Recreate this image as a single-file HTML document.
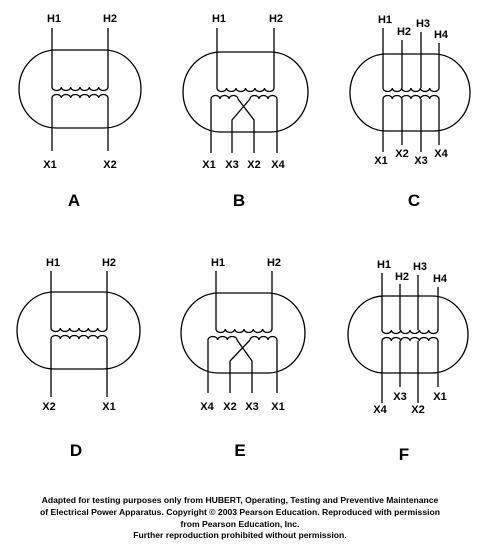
<!DOCTYPE html>
<html><head><meta charset="utf-8"><style>
html,body{margin:0;padding:0;background:#fff;}
svg{display:block;}
text{font-family:"Liberation Sans",Arial,sans-serif;font-weight:bold;fill:#000;}
</style></head><body>
<svg id="s" width="479" height="545" viewBox="0 0 479 545" xmlns="http://www.w3.org/2000/svg">
<g id="g" fill="none" stroke="#000" stroke-width="1.3"></g>
<g font-size="8.6" text-anchor="middle">
<text x="240" y="503">Adapted for testing purposes only from HUBERT, Operating, Testing and Preventive Maintenance</text>
<text x="240" y="515">of Electrical Power Apparatus. Copyright © 2003 Pearson Education. Reproduced with permission</text>
<text x="240" y="527">from Pearson Education, Inc.</text>
<text x="240" y="538">Further reproduction prohibited without permission.</text>
</g>
</svg>
<script>
const NS="http://www.w3.org/2000/svg";
const s=document.getElementById('s'), g=document.getElementById('g');
function P(d){const p=document.createElementNS(NS,'path');p.setAttribute('d',d);


g.appendChild(p);}
function T(x,y,t,sz,name){const e=document.createElementNS(NS,'text');e.setAttribute('x',x);e.setAttribute('y',y);
e.setAttribute('text-anchor','middle');e.setAttribute('font-size',sz);e.textContent=t;


s.appendChild(e);}
function oval(l,r,t,b){const h=(b-t)/2,rx=(r-l)*0.3;
P(`M${l+rx} ${t}L${r-rx} ${t}A${rx} ${h} 0 0 1 ${r-rx} ${b}L${l+rx} ${b}A${rx} ${h} 0 0 1 ${l+rx} ${t}Z`);}
function coil(x1,x2,y,n,up){const w=(x2-x1)/n;let d=`M${x1} ${y}`;
for(let i=1;i<=n;i++)d+=`A${w/2} 3.5 0 0 ${up?1:0} ${x1+w*i} ${y}`;P(d);}
function panel(o){
 o.sy=o.py+11;
 oval(o.l,o.r,o.t,o.b);
 const hx=o.h.map(h=>h[0]);
 o.h.forEach(h=>{P(`M${h[0]} ${h[2]}L${h[0]} ${o.py}`);T(h[0]+2,h[1],h[3],11,'terminal-'+h[3].toLowerCase());});
 coil(hx[0],hx[hx.length-1],o.py,6,false);
 if(o.cross){
  const c=o.cross;
  coil(c[0],c[1],o.sy,3,true);coil(c[2],c[3],o.sy,3,true);
  P(`M${c[0]} ${o.sy}L${c[0]} ${o.xe}`);P(`M${c[3]} ${o.sy}L${c[3]} ${o.xe}`);
  P(`M${c[1]} ${o.sy}L${c[5]} ${o.sy+21}L${c[5]} ${o.xe}`);
  P(`M${c[2]} ${o.sy}L${c[4]} ${o.sy+21}L${c[4]} ${o.xe}`);
 } else {
  coil(o.x[0][0],o.x[o.x.length-1][0],o.sy,6,true);
  o.x.forEach(x=>P(`M${x[0]} ${o.sy}L${x[0]} ${x[2]}`));
 }
 o.x.forEach(x=>T(x[0]+(x[4]||0),x[1],x[3],11,'terminal-'+x[3].toLowerCase()));
 T(o.lx,o.ly,o.L,17,'label-'+o.L.toLowerCase());
}
panel({l:19,r:141,t:50,b:128,py:87,h:[[52,22,28,'H1'],[108,22,28,'H2']],
 x:[[52,168,151,'X1',-2],[108,168,151,'X2',2]],lx:74,ly:206,L:'A'});
panel({l:183,r:308,t:52,b:132,py:88,h:[[217,22,28,'H1'],[274,22,28,'H2']],
 cross:[211,238,250,277,232,254],xe:153,
 x:[[211,168,0,'X1',-2],[232,168,0,'X3'],[254,168,0,'X2'],[277,168,0,'X4',1]],lx:239,ly:206,L:'B'});
panel({l:350,r:470,t:54,b:131,py:88,
 h:[[383,23,28,'H1'],[402,35,40,'H2'],[421,27,32,'H3'],[439,38,43,'H4']],
 x:[[383,164,152,'X1',-2],[402,157,145,'X2'],[421,164,152,'X3'],[439,157,145,'X4',2]],lx:414,ly:206,L:'C'});
panel({l:17,r:140,t:292,b:369,py:328,h:[[51,266,271,'H1'],[107,266,271,'H2']],
 x:[[51,410,397,'X2',-2],[107,410,397,'X1',2]],lx:76,ly:456,L:'D'});
panel({l:181,r:305,t:293,b:373,py:329,h:[[216,266,271,'H1'],[272,266,271,'H2']],
 cross:[208,237,250,277,230,252],xe:393,
 x:[[208,410,0,'X4',-1],[230,410,0,'X2'],[252,410,0,'X3'],[277,410,0,'X1',1]],lx:240,ly:456,L:'E'});
panel({l:348,r:468,t:296,b:373,py:330,
 h:[[382,268,273,'H1'],[400,280,284,'H2'],[418,270,275,'H3'],[438,282,287,'H4']],
 x:[[382,413,403,'X4',-2],[400,400,387,'X3'],[418,413,403,'X2'],[438,400,387,'X1',2]],lx:404,ly:460,L:'F'});
</script>
</body></html>
